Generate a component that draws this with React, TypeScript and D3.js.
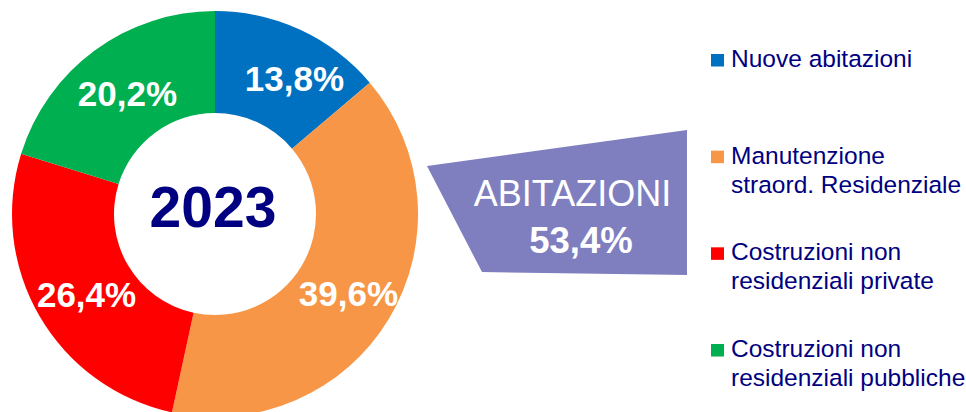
import React from "react";
import * as d3 from "d3";

const categories = [
  "Nuove abitazioni",
  "Manutenzione straord. Residenziale",
  "Costruzioni non residenziali private",
  "Costruzioni non residenziali pubbliche",
];
const legendLines = [
  ["Nuove abitazioni"],
  ["Manutenzione", "straord. Residenziale"],
  ["Costruzioni non", "residenziali private"],
  ["Costruzioni non", "residenziali pubbliche"],
];
const values = [13.8, 39.6, 26.4, 20.2];
const valueLabels = ["13,8%", "39,6%", "26,4%", "20,2%"];
const colors = ["#0070C0", "#F79646", "#FF0000", "#00B050"];
const centerLabel = "2023";
const calloutTitle = "ABITAZIONI";
const calloutValue = "53,4%";
const labelNudgeX = [16, 4, 2, 2];
const labelNudgeY = [2, 2, 4, 1];

const W = 966;
const H = 412;
const cx = 215;
const cy = 214;
const R = 203;
const r = 101;
const navy = "#000080";
const font = "'Liberation Sans', Arial, Helvetica, sans-serif";

export default function App() {
  const pie = d3
    .pie<number>()
    .sort(null)
    .value((d) => d)
    .startAngle(0)
    .endAngle(2 * Math.PI);
  const arcs = pie(values);
  const arcGen = d3.arc<d3.PieArcDatum<number>>().innerRadius(r).outerRadius(R);
  const labelArc = d3.arc<d3.PieArcDatum<number>>().innerRadius(151).outerRadius(151);

  const callout: [number, number][] = [
    [427, 166],
    [687, 130],
    [687, 275],
    [482, 272],
  ];
  const calloutPath = d3.line()(callout) + "Z";

  const legendY = d3.scalePoint<number>().domain([0, 1, 2, 3]).range([67, 357]);

  return (
    <svg
      width={W}
      height={H}
      style={{ position: "absolute", left: 0, top: 0, display: "block" }}
      fontFamily={font}
    >
      <rect width={W} height={H} fill="#ffffff" />
      <g transform={`translate(${cx},${cy})`}>
        {arcs.map((a, i) => (
          <path key={i} d={arcGen(a) || ""} fill={colors[i]} />
        ))}
        {arcs.map((a, i) => {
          const [x, y] = labelArc.centroid(a);
          return (
            <text
              key={"l" + i}
              x={x + labelNudgeX[i]}
              y={y + 12.5 + labelNudgeY[i]}
              textAnchor="middle"
              fill="#ffffff"
              fontWeight="bold"
              fontSize={35}
            >
              {valueLabels[i]}
            </text>
          );
        })}
        <text x={-2} y={13} textAnchor="middle" fill={navy} fontWeight="bold" fontSize={57}>
          {centerLabel}
        </text>
      </g>
      <path d={calloutPath} fill="#7F7FBF" />
      <text x={572.5} y={206} textAnchor="middle" fill="#ffffff" fontSize={36}>
        {calloutTitle}
      </text>
      <text x={581} y={253} textAnchor="middle" fill="#ffffff" fontWeight="bold" fontSize={36.5}>
        {calloutValue}
      </text>
      {categories.map((c, i) => {
        const by = legendY(i) as number;
        return (
          <g key={c}>
            <rect x={711} y={by - 13} width={13} height={12.5} fill={colors[i]} />
            {legendLines[i].map((ln, j) => (
              <text key={j} x={731} y={by + j * 29} fill={navy} fontSize={24.5}>
                {ln}
              </text>
            ))}
          </g>
        );
      })}
    </svg>
  );
}
